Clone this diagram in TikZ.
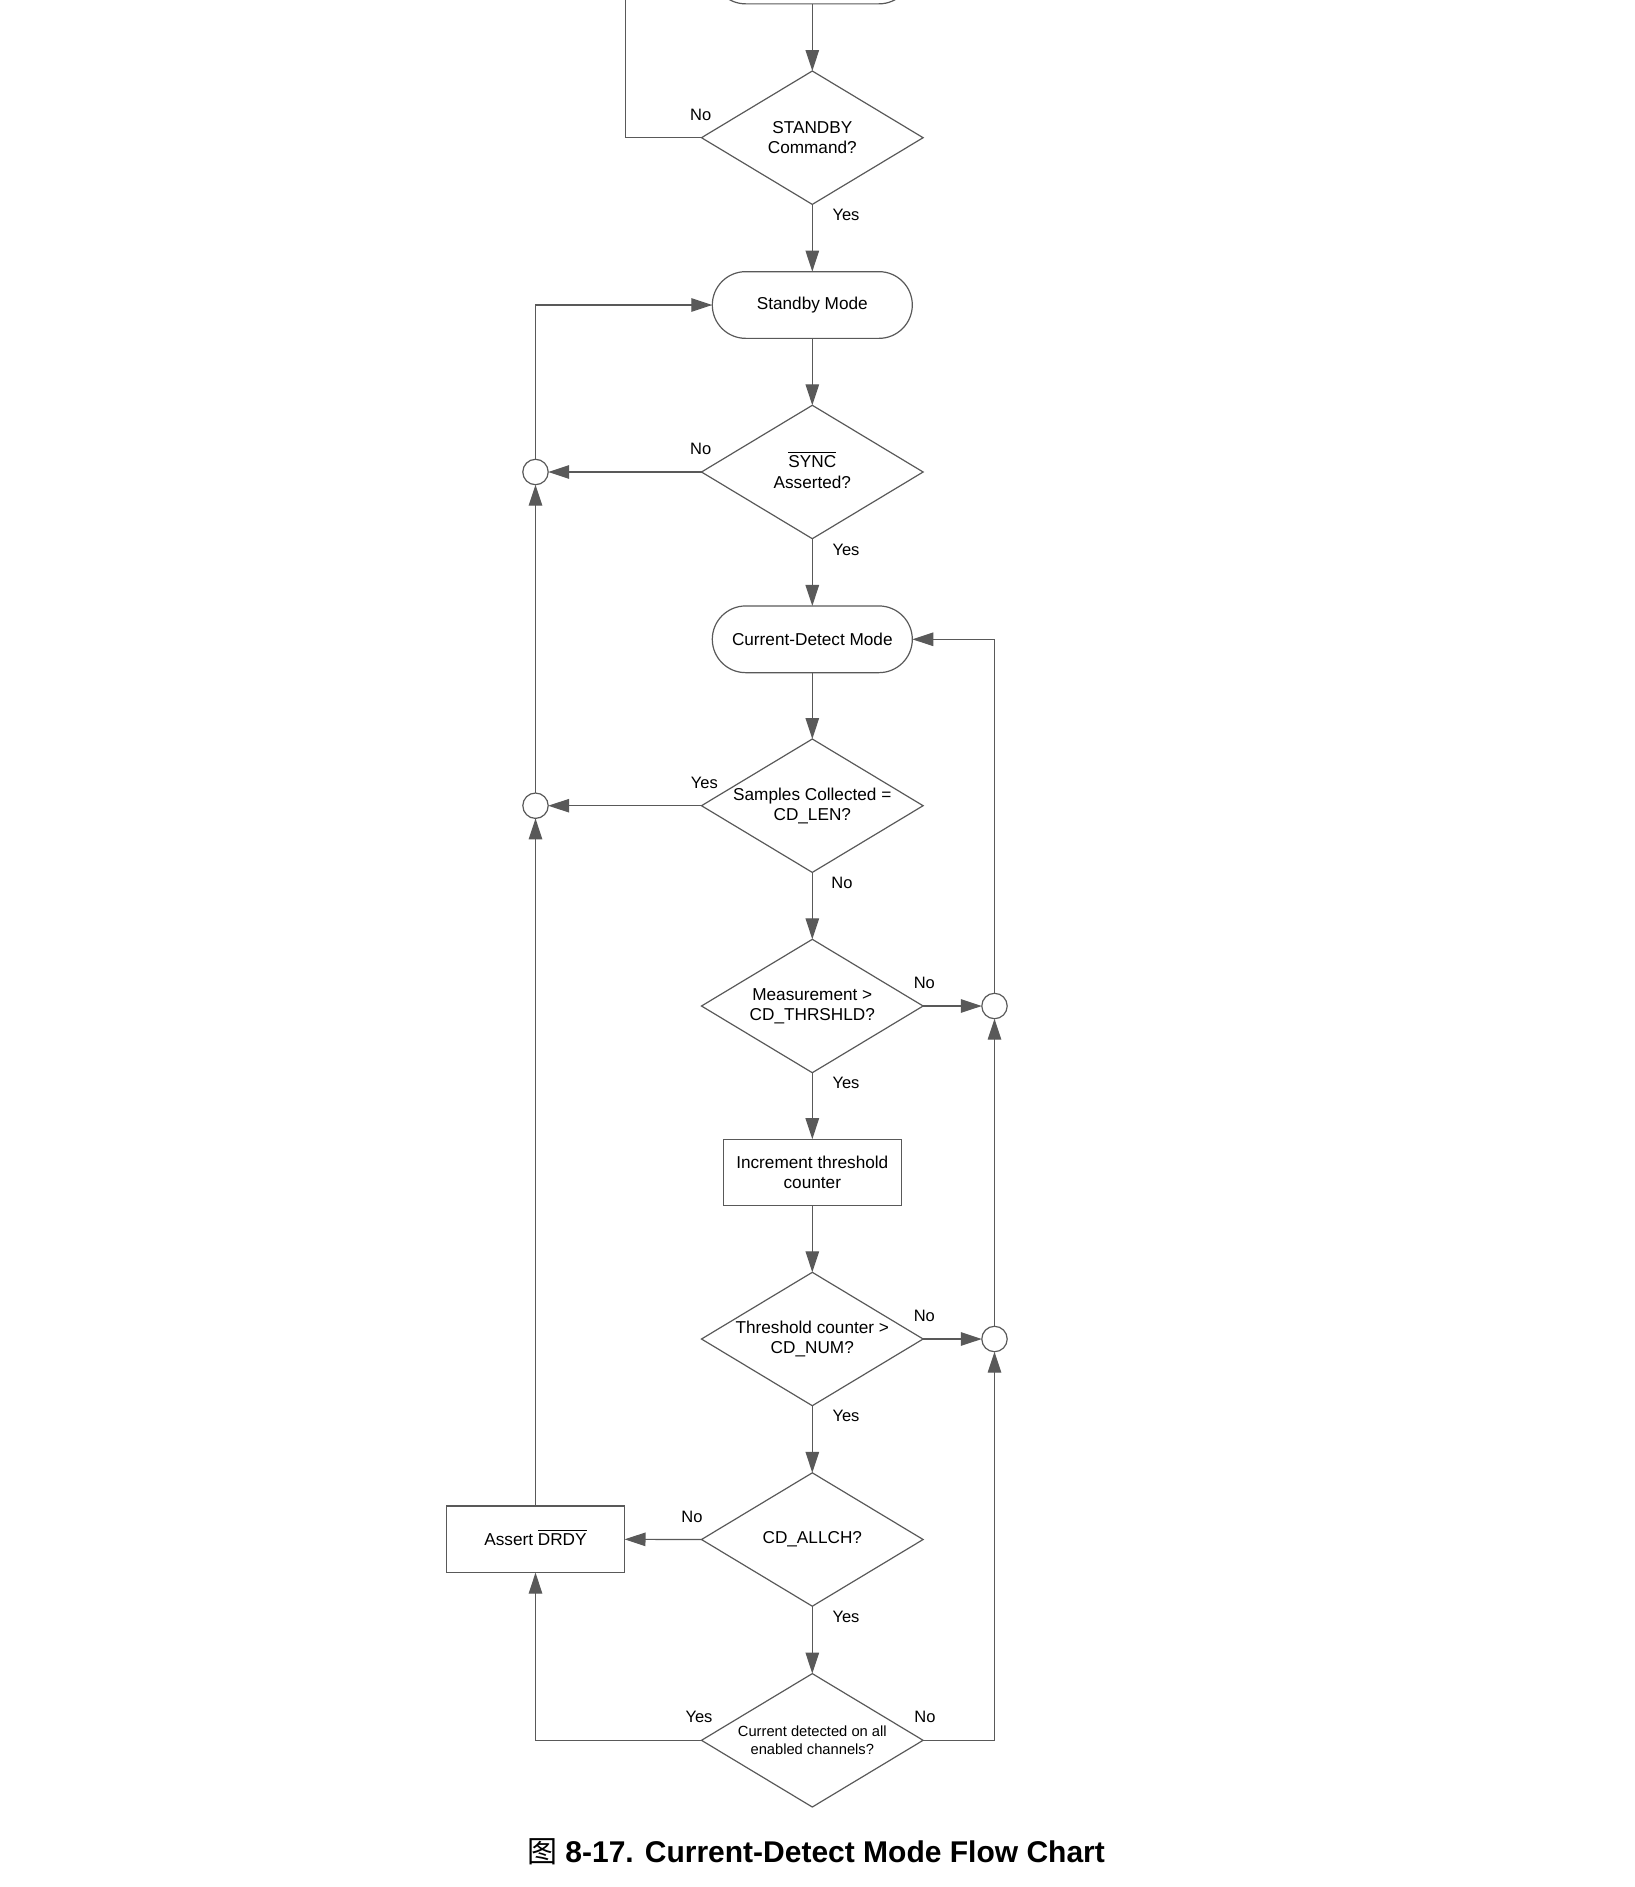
\documentclass[tikz,border=0pt]{standalone}
\usepackage{fontspec}
\setmainfont{Liberation Sans}
\newfontfamily\cjkfont{Noto Sans CJK SC}
\usetikzlibrary{shapes.geometric,arrows.meta}
\definecolor{ln}{RGB}{89,89,89}
\newsavebox\myovlbox
\newcommand\myovl[1]{\leavevmode\sbox\myovlbox{#1}\rlap{\raisebox{\dimexpr\ht\myovlbox+2.6pt\relax}[0pt][0pt]{\rule{\wd\myovlbox}{1.1pt}}}\usebox\myovlbox}
\begin{document}
\begin{tikzpicture}[x=1pt,y=-1pt,
  every node/.style={outer sep=0pt},
  wire/.style={draw=ln, line width=1.2pt},
  flow/.style={draw=ln, line width=1.2pt, -{Triangle[length=21pt,width=13.5pt]}},
  dec/.style={diamond, draw=ln, line width=1.2pt, minimum width=221.6pt, minimum height=133.4pt, aspect=1.66, inner sep=0pt, align=center, font=\fontsize{17.2}{20.4}\selectfont},
  term/.style={rectangle, rounded corners=33.35pt, draw=ln, line width=1.2pt, minimum width=200pt, minimum height=66.7pt, inner sep=0pt, font=\fontsize{17.2}{20.4}\selectfont},
  proc/.style={rectangle, draw=ln, line width=1.2pt, minimum width=178pt, minimum height=66.6pt, inner sep=0pt, align=center, font=\fontsize{17.2}{20.4}\selectfont},
  junc/.style={circle, draw=ln, line width=1.2pt, minimum size=25.4pt, inner sep=0pt},
  lbl/.style={inner sep=0pt, font=\fontsize{16.5}{19}\selectfont}
]
\useasboundingbox (0,0) rectangle (1635,1887);
\clip (0,0) rectangle (1635,1887);

% nodes
\node[term] (top) at (812.3,-29.5) {};
\node[dec] (q1) at (812.3,137.7) {STANDBY\\Command?};
\node[term] (sbm) at (812.3,305) {Standby Mode};
\node[dec] (q2) at (812.3,472) {\myovl{SYNC}\\Asserted?};
\node[term] (cdm) at (812.3,639.3) {Current-Detect Mode};
\node[dec] (q3) at (812.3,805.7) {Samples Collected =\\CD\_LEN?};
\node[dec] (q4) at (812.3,1006) {Measurement >\\CD\_THRSHLD?};
\node[proc] (inc) at (812.3,1172.5) {Increment threshold\\counter};
\node[dec] (q5) at (812.3,1339) {Threshold counter >\\CD\_NUM?};
\node[dec] (q6) at (812.3,1539.5) {CD\_ALLCH?};
\node[dec, font=\fontsize{14.7}{18}\selectfont] (q7) at (812.3,1740.3) {Current detected on all\\enabled channels?};
\node[proc] (drdy) at (535.5,1539.3) {Assert \myovl{DRDY}};
\node[junc] (j1) at (535.5,472) {};
\node[junc] (j2) at (535.5,805.7) {};
\node[junc] (j3) at (994.5,1006) {};
\node[junc] (j4) at (994.5,1339) {};
\coordinate (ret) at (625.7,-60);

% connectors
\draw[flow] (top.south) -- (q1.north);
\draw[wire] (q1.west) -| (ret);
\draw[flow] (q1.south) -- (sbm.north);
\draw[flow] (sbm.south) -- (q2.north);
\draw[flow] (q2.west) -- (j1.east);
\draw[flow] (j1.north) |- (sbm.west);
\draw[flow] (q2.south) -- (cdm.north);
\draw[flow] (cdm.south) -- (q3.north);
\draw[flow] (q3.west) -- (j2.east);
\draw[flow] (j2.north) -- (j1.south);
\draw[flow] (q3.south) -- (q4.north);
\draw[flow] (q4.east) -- (j3.west);
\draw[flow] (j3.north) |- (cdm.east);
\draw[flow] (q4.south) -- (inc.north);
\draw[flow] (inc.south) -- (q5.north);
\draw[flow] (q5.east) -- (j4.west);
\draw[flow] (j4.north) -- (j3.south);
\draw[flow] (q5.south) -- (q6.north);
\draw[flow] (q6.west) -- (drdy.east);
\draw[flow] (drdy.north) -- (j2.south);
\draw[flow] (q6.south) -- (q7.north);
\draw[flow] (q7.west) -| (drdy.south);
\draw[flow] (q7.east) -| (j4.south);

% labels
\node[lbl] (l1) at (700.7,115) {No};
\node[lbl] (l2) at (846,215) {Yes};
\node[lbl] (l3) at (700.7,449) {No};
\node[lbl] (l4) at (846,550) {Yes};
\node[lbl] (l5) at (704.3,783.3) {Yes};
\node[lbl] (l6) at (842,883.3) {No};
\node[lbl] (l7) at (924.3,983.3) {No};
\node[lbl] (l8) at (846,1083.3) {Yes};
\node[lbl] (l9) at (924.3,1316) {No};
\node[lbl] (l10) at (846,1416) {Yes};
\node[lbl] (l11) at (692,1517.3) {No};
\node[lbl] (l12) at (846,1617) {Yes};
\node[lbl] (l13) at (699,1716.7) {Yes};
\node[lbl] (l14) at (925,1716.7) {No};

% caption
\node[anchor=base, inner sep=0pt, font=\bfseries\fontsize{30}{36}\selectfont] (cap) at (816,1862) {{\cjkfont\mdseries 图} 8-17. Current-Detect Mode Flow Chart};
\end{tikzpicture}
\end{document}
